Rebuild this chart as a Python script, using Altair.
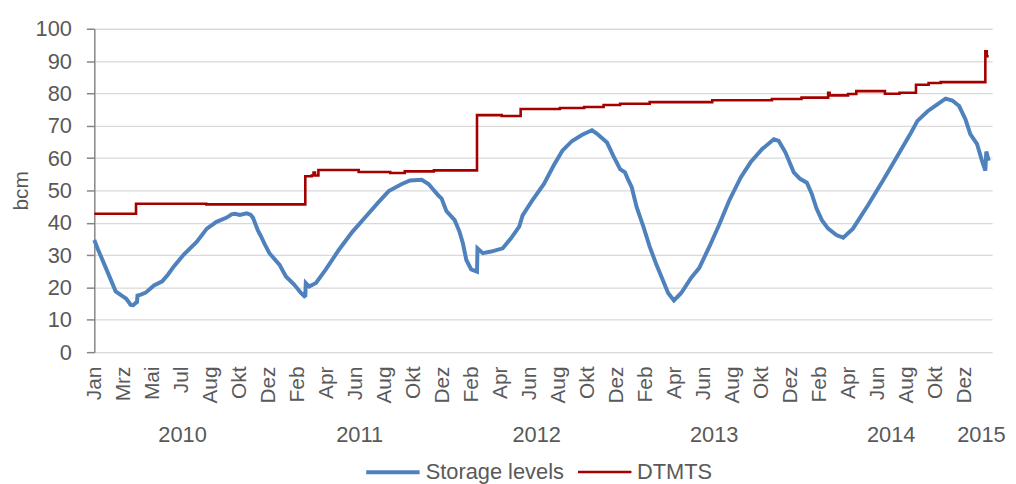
import altair as alt
import pandas as pd

# Storage levels (day since 1 Jan 2010, bcm)
storage_day = [0, 7, 14, 27, 44, 58, 66, 75, 80, 86, 88, 89, 96, 106, 123, 140, 152, 164, 184, 211,
               232, 252, 273, 283, 290, 300, 314, 322, 327, 337, 343, 351, 361, 382, 395, 412, 426,
               433, 435, 436, 443, 457, 477, 504, 532, 559, 586, 607, 634, 651, 675, 689, 709, 716,
               726, 743, 753, 760, 767, 777, 789, 790, 801, 818, 842, 859, 876, 883, 903, 927, 947,
               965, 985, 1006, 1026, 1036, 1057, 1070, 1084, 1094, 1100, 1108, 1118, 1132, 1145,
               1159, 1169, 1183, 1195, 1210, 1230, 1247, 1268, 1288, 1309, 1333, 1353, 1377, 1401,
               1411, 1425, 1442, 1455, 1469, 1479, 1489, 1500, 1513, 1530, 1544, 1564, 1595, 1626,
               1656, 1684, 1697, 1718, 1738, 1755, 1769, 1783, 1796, 1806, 1820, 1830, 1837, 1839,
               1844]
storage_val = [34.7, 32.0, 29.5, 24.9, 18.8, 17.3, 16.5, 14.6, 14.5, 15.3, 15.5, 17.5, 17.8, 18.4,
               20.6, 21.9, 24.0, 26.5, 30.1, 34.1, 38.2, 40.3, 41.6, 42.6, 42.8, 42.4, 42.9, 42.5,
               41.6, 37.7, 36.0, 33.5, 30.6, 27.0, 23.4, 20.9, 18.3, 17.3, 17.5, 21.4, 20.3, 21.4,
               25.5, 31.6, 37.2, 41.8, 46.4, 49.8, 52.0, 53.1, 53.3, 52.0, 48.5, 47.5, 43.6, 40.8,
               37.2, 33.6, 28.5, 25.6, 24.9, 32.1, 30.6, 31.1, 32.1, 35.2, 38.8, 42.3, 46.9, 52.0,
               57.7, 62.3, 65.3, 67.2, 68.6, 67.6, 64.8, 60.7, 56.6, 55.6, 53.5, 51.0, 44.9, 38.8,
               32.6, 27.0, 23.4, 18.3, 16.0, 18.3, 22.9, 26.0, 32.6, 39.3, 46.9, 54.1, 58.7, 62.8,
               65.8, 65.3, 61.7, 55.6, 53.6, 52.4, 49.0, 44.4, 40.8, 38.2, 36.2, 35.4, 38.2, 45.4,
               53.1, 60.7, 67.9, 71.5, 74.5, 76.6, 78.4, 77.8, 76.1, 72.0, 67.4, 64.3, 59.2, 56.1,
               62.0, 59.2]

# DTMTS (step series)
dtmts_day = [0, 86, 231, 435, 448, 452, 455, 462, 545, 610, 640, 700, 789, 840, 879, 960, 1010,
             1050, 1084, 1145, 1274, 1397, 1458, 1513, 1516, 1554, 1571, 1630, 1660, 1694, 1720,
             1745, 1837, 1840, 1844]
dtmts_val = [42.8, 45.9, 45.7, 54.4, 54.6, 55.5, 54.6, 56.3, 55.7, 55.4, 55.9, 56.2, 73.3, 73.0,
             75.2, 75.5, 75.8, 76.4, 76.8, 77.3, 77.9, 78.3, 78.7, 80.2, 79.4, 79.8, 80.7, 79.9,
             80.2, 82.7, 83.2, 83.5, 93.0, 91.5, 91.5]

tick_labels = ["Jan", "Mrz", "Mai", "Jul", "Aug", "Okt", "Dez", "Feb", "Apr", "Jun", "Aug", "Okt",
               "Dez", "Feb", "Apr", "Jun", "Aug", "Okt", "Dez", "Feb", "Apr", "Jun", "Aug", "Okt",
               "Dez", "Feb", "Apr", "Jun", "Aug", "Okt", "Dez"]
tick_step = 59.8
y_ticks = [0, 10, 20, 30, 40, 50, 60, 70, 80, 90, 100]
years = ["2010", "2011", "2012", "2013", "2014", "2015"]
year_mid = [182, 547, 912, 1278, 1643, 1829]

series_names = ["Storage levels", "DTMTS"]
colors = ["#4F81BD", "#A50000"]

FONT = "Liberation Sans Narrow, Arial Narrow, Liberation Sans, sans-serif"
TXT = "#595959"

df = pd.concat([
    pd.DataFrame({"day": storage_day, "value": storage_val, "series": "Storage levels"}),
    pd.DataFrame({"day": dtmts_day, "value": dtmts_val, "series": "DTMTS"}),
])
years_df = pd.DataFrame({"year": years, "day": year_mid})

tick_vals = [round(i * tick_step, 2) for i in range(len(tick_labels))]
label_expr = "[" + ",".join("'%s'" % t for t in tick_labels) + "][round(datum.value / %s)]" % tick_step

xscale = alt.Scale(domain=[0, 1851], nice=False, zero=False)
yscale = alt.Scale(domain=[0, 100], nice=False)

leg = alt.Legend(title=None, orient="none", direction="horizontal", legendX=272, legendY=418,
                 symbolType="stroke", symbolSize=2900, labelFontSize=22, labelFont=FONT,
                 labelColor=TXT, columnPadding=8, labelOffset=4, padding=0)

xaxis = alt.Axis(values=tick_vals, labelExpr=label_expr, labelAngle=-90, ticks=False,
                 domain=False, grid=False, labelPadding=14, labelFontSize=21, title=None,
                 labelOverlap=False)
yaxis = alt.Axis(values=y_ticks, title="bcm", titleX=-73, titleY=163,
                 titleAngle=-90, titleAlign="center", titleBaseline="middle",
                 titleFontSize=21, titleFontWeight="normal", labelPadding=15, tickSize=8,
                 labelFontSize=22, labelOverlap=False)

cscale = alt.Scale(domain=series_names, range=colors)
wscale = alt.Scale(domain=series_names, range=[4, 2.6])

X = alt.X("day:Q", scale=xscale, axis=xaxis)
Y = alt.Y("value:Q", scale=yscale, axis=yaxis)
C = alt.Color("series:N", scale=cscale, legend=leg, sort=series_names)
W = alt.StrokeWidth("series:N", scale=wscale, legend=leg, sort=series_names)

blue = alt.Chart(df).mark_line(interpolate="linear").encode(
    x=X, y=Y, color=C, strokeWidth=W,
).transform_filter(alt.datum.series == "Storage levels")

red = alt.Chart(df).mark_line(interpolate="step-after").encode(
    x=X, y=Y, color=C, strokeWidth=W,
).transform_filter(alt.datum.series == "DTMTS")

year_text = alt.Chart(years_df).mark_text(fontSize=22, font=FONT, color=TXT, baseline="middle",
                                          align="center", clip=False).encode(
    x=X,
    y=alt.value(410),
    text="year:N",
)

chart = alt.layer(blue, red, year_text).properties(
    width=905, height=326,
    padding={"left": 87, "top": 19, "right": 16, "bottom": 131},
    autosize=alt.AutoSizeParams(type="none"),
).configure_view(stroke=None).configure_axis(
    labelFont=FONT, titleFont=FONT, labelColor=TXT, titleColor=TXT,
    domainColor="#868686", domainWidth=1.5, tickColor="#868686", tickWidth=1.5,
    gridColor="#D9D9D9", gridWidth=1.3, labelOverlap=False,
)

chart.save("out.html", embed_options={"renderer": "svg", "actions": False})
